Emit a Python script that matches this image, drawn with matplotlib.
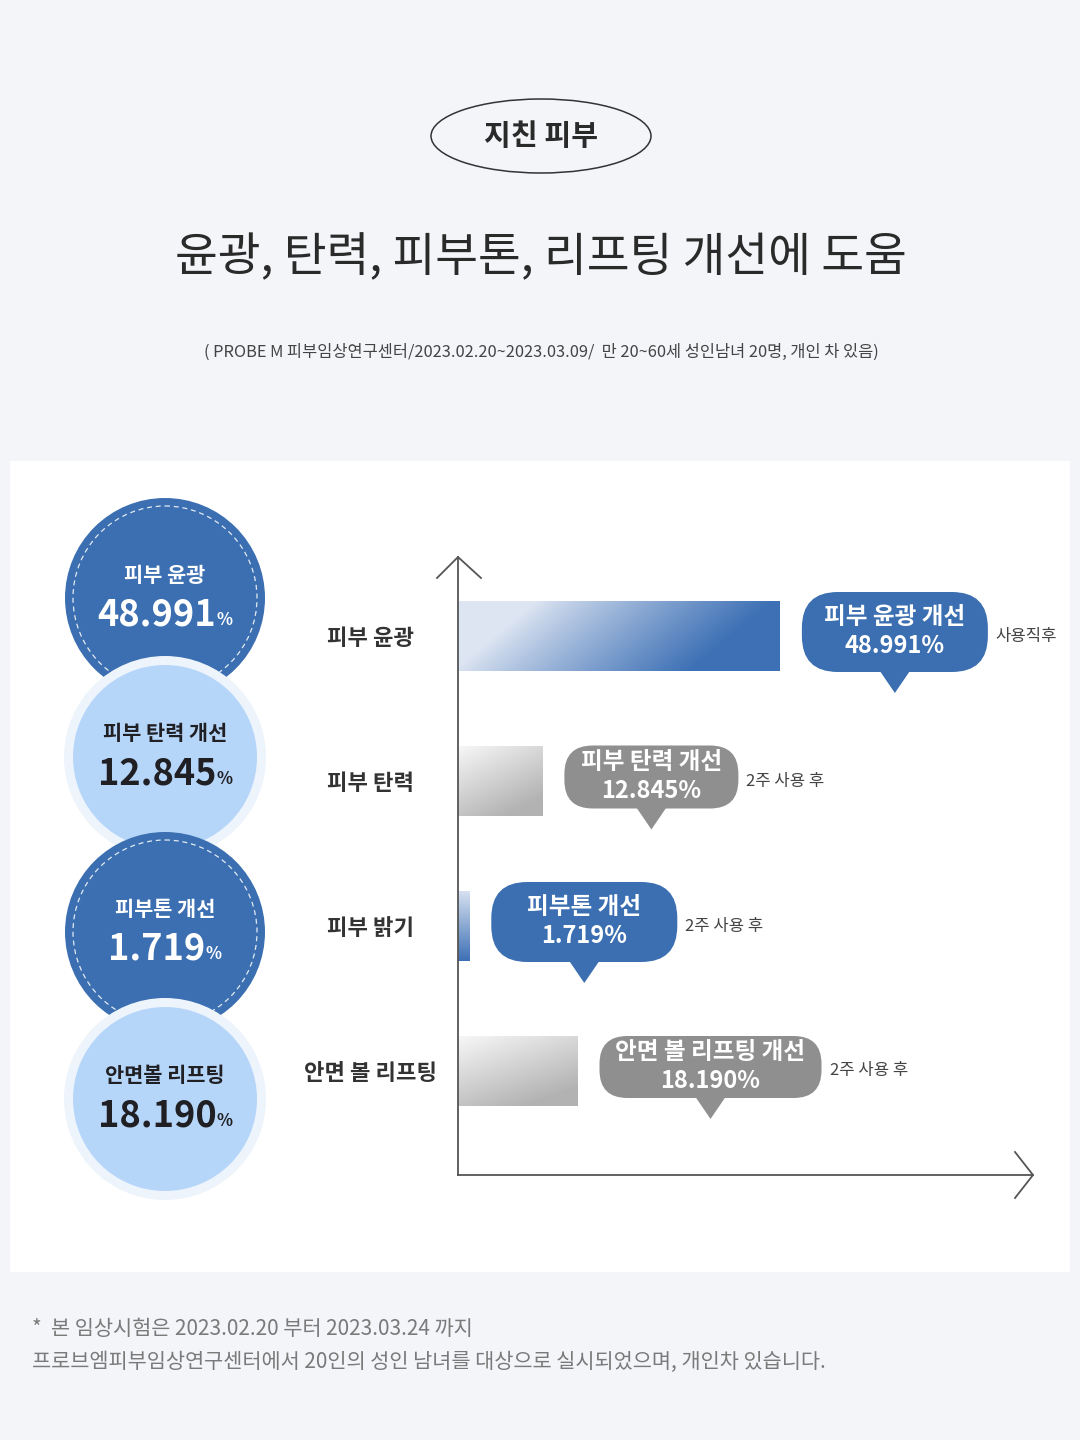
import numpy as np
import matplotlib
matplotlib.use('Agg')
import matplotlib.pyplot as plt
from matplotlib.patches import Circle, Ellipse, FancyBboxPatch, Polygon, Rectangle

plt.rcParams['font.family'] = ['Noto Sans CJK KR', 'DejaVu Sans']

# data
categories = ['피부 윤광', '피부 탄력', '피부 밝기', '안면 볼 리프팅']
values = [48.991, 12.845, 1.719, 18.190]
bubble_titles = ['피부 윤광 개선', '피부 탄력 개선', '피부톤 개선', '안면 볼 리프팅 개선']
timing = ['사용직후', '2주 사용 후', '2주 사용 후', '2주 사용 후']
circle_titles = ['피부 윤광', '피부 탄력 개선', '피부톤 개선', '안면볼 리프팅']

BG = '#f4f5f9'
BLUE = '#3b6fb1'
LIGHT = '#b6d6f9'
GRAY = '#8f8f8f'
AXC = '#555555'

fig = plt.figure(figsize=(10.8, 14.4), dpi=100)
fig.patch.set_facecolor(BG)
ax = fig.add_axes([0, 0, 1, 1])
ax.set_xlim(0, 1080)
ax.set_ylim(1440, 0)
ax.axis('off')

# header
ax.add_patch(Ellipse((541, 136), 220, 74, facecolor='none', edgecolor='#333333', lw=1.1))
ax.text(541, 136, '지친 피부', ha='center', va='center', fontsize=21, weight='bold', color='#2a2a2a')
ax.text(541, 258, '윤광, 탄력, 피부톤, 리프팅 개선에 도움', ha='center', va='center',
        fontsize=33.5, weight='medium', color='#2a2a2a')
ax.text(541, 352, '( PROBE M 피부임상연구센터/2023.02.20~2023.03.09/  만 20~60세 성인남녀 20명, 개인 차 있음)',
        ha='center', va='center', fontsize=11.8, color='#444444')

# white panel
ax.add_patch(Rectangle((10, 461), 1060, 811, facecolor='white', edgecolor='none'))

# left circles
circle_y = [598, 757, 932, 1099]
for i, (cy, title, v) in enumerate(zip(circle_y, circle_titles, values)):
    z = 2 + i * 3
    if i % 2 == 0:
        ax.add_patch(Circle((165, cy), 100, facecolor=BLUE, edgecolor='none', zorder=z))
        ax.add_patch(Circle((165, cy), 92, facecolor='none', edgecolor='white', lw=0.9,
                            linestyle=(0, (4, 3)), alpha=0.85, zorder=z + 1))
        tc = 'white'
    else:
        ax.add_patch(Circle((165, cy), 101, facecolor='#edf4fc', edgecolor='none', zorder=z))
        ax.add_patch(Circle((165, cy), 92, facecolor=LIGHT, edgecolor='none', zorder=z + 1))
        tc = '#1f1f24'
    ax.text(165, cy - 23, title, ha='center', va='center', fontsize=15, weight='bold',
            color=tc, zorder=z + 2)
    num = ax.text(157, cy + 17, f'{v:.3f}', ha='center', va='center', fontsize=26,
                  weight='bold', color=tc, zorder=z + 2)
    ax.annotate('%', xy=(1.0, 0.13), xycoords=num, ha='left', va='bottom', fontsize=12,
                weight='bold', color=tc, zorder=z + 2)

# bar chart axes: x 458..1033 px, y 557..1175 px
px_per_unit = 6.57
x_left, x_right = 458, 1033
y_top, y_bot = 557, 1175
bx = fig.add_axes([x_left / 1080, 1 - y_bot / 1440, (x_right - x_left) / 1080, (y_bot - y_top) / 1440])
bx.patch.set_visible(False)
step = 145.0
ypos = np.arange(len(values))
xlim = (0, (x_right - x_left) / px_per_unit)
ylim = ((y_bot - 636) / step, (y_top - 636) / step)

bars = bx.barh(ypos, values, height=70 / step, color='none', edgecolor='none')


def gradient(kind, n=200):
    xx, yy = np.meshgrid(np.linspace(0, 1, n), np.linspace(0, 1, n))
    if kind == 'blue_h':
        t = np.clip(1.35 * xx + 0.35 * (yy - 0.5) - 0.15, 0, 1) ** 0.9
        c0, c1 = np.array([0.87, 0.90, 0.95]), np.array([0.24, 0.44, 0.71])
    elif kind == 'blue_v':
        t = yy
        c0, c1 = np.array([0.84, 0.88, 0.94]), np.array([0.24, 0.44, 0.71])
    else:
        t = np.clip(0.45 * xx + 0.75 * yy, 0, 1)
        c0, c1 = np.array([0.97, 0.97, 0.97]), np.array([0.70, 0.70, 0.70])
    return c0 + (c1 - c0) * t[..., None]


kinds = ['blue_h', 'gray', 'blue_v', 'gray']
for b, k in zip(bars, kinds):
    x0, w = b.get_x(), b.get_width()
    y0, h = b.get_y(), b.get_height()
    im = bx.imshow(gradient(k), extent=[x0, x0 + w, y0 + h, y0], aspect='auto',
                   interpolation='bilinear', zorder=2)
    im.set_clip_path(b)

bx.set_xlim(*xlim)
bx.set_ylim(*ylim)
bx.set_xticks([])
bx.set_yticks(ypos)
bx.set_yticklabels(categories, fontsize=16, weight='bold', color='#333333', ha='center')
bx.tick_params(axis='y', length=0, pad=63)
for s in ['top', 'right']:
    bx.spines[s].set_visible(False)
for s in ['left', 'bottom']:
    bx.spines[s].set_color(AXC)
    bx.spines[s].set_linewidth(1.3)

# arrow heads
ax.plot([437, 458, 481], [578, 557, 578], color=AXC, lw=1.3, zorder=10)
ax.plot([1015, 1033, 1015], [1152, 1175, 1198], color=AXC, lw=1.3, zorder=10)

# speech bubbles
bub_w = [186, 174, 186, 222]
bub_h = [80, 63, 80, 62]
bub_c = [BLUE, GRAY, BLUE, GRAY]
to_ax = ax.transData.inverted()
for i, v in enumerate(values):
    ex, ey = to_ax.transform(bx.transData.transform((v, ypos[i])))
    left = ex + 22
    cy = ey - 4
    w, h = bub_w[i], bub_h[i]
    top = cy - h / 2
    ax.add_patch(FancyBboxPatch((left, top), w, h, boxstyle=f'round,pad=0,rounding_size={h * 0.45}',
                                facecolor=bub_c[i], edgecolor='none', zorder=5))
    cx = left + w / 2
    ax.add_patch(Polygon([(cx - 15, top + h - 1), (cx + 15, top + h - 1), (cx, top + h + 21)],
                         closed=True, facecolor=bub_c[i], edgecolor='none', zorder=5))
    ax.text(cx, cy - 15, bubble_titles[i], ha='center', va='center', fontsize=17,
            weight='bold', color='white', zorder=6)
    ax.text(cx, cy + 14, f'{v:.3f}%', ha='center', va='center', fontsize=17,
            weight='bold', color='white', zorder=6)
    ax.text(left + w + 8, ey, timing[i], ha='left', va='center', fontsize=12,
            color='#444444', zorder=6)

# footnote
ax.text(32, 1329, '*  본 임상시험은 2023.02.20 부터 2023.03.24 까지', ha='left', va='center',
        fontsize=15, color='#7a7a7a')
ax.text(32, 1362, '프로브엠피부임상연구센터에서 20인의 성인 남녀를 대상으로 실시되었으며, 개인차 있습니다.',
        ha='left', va='center', fontsize=15, color='#7a7a7a')

fig.savefig('out.png', dpi=100, facecolor=BG)
